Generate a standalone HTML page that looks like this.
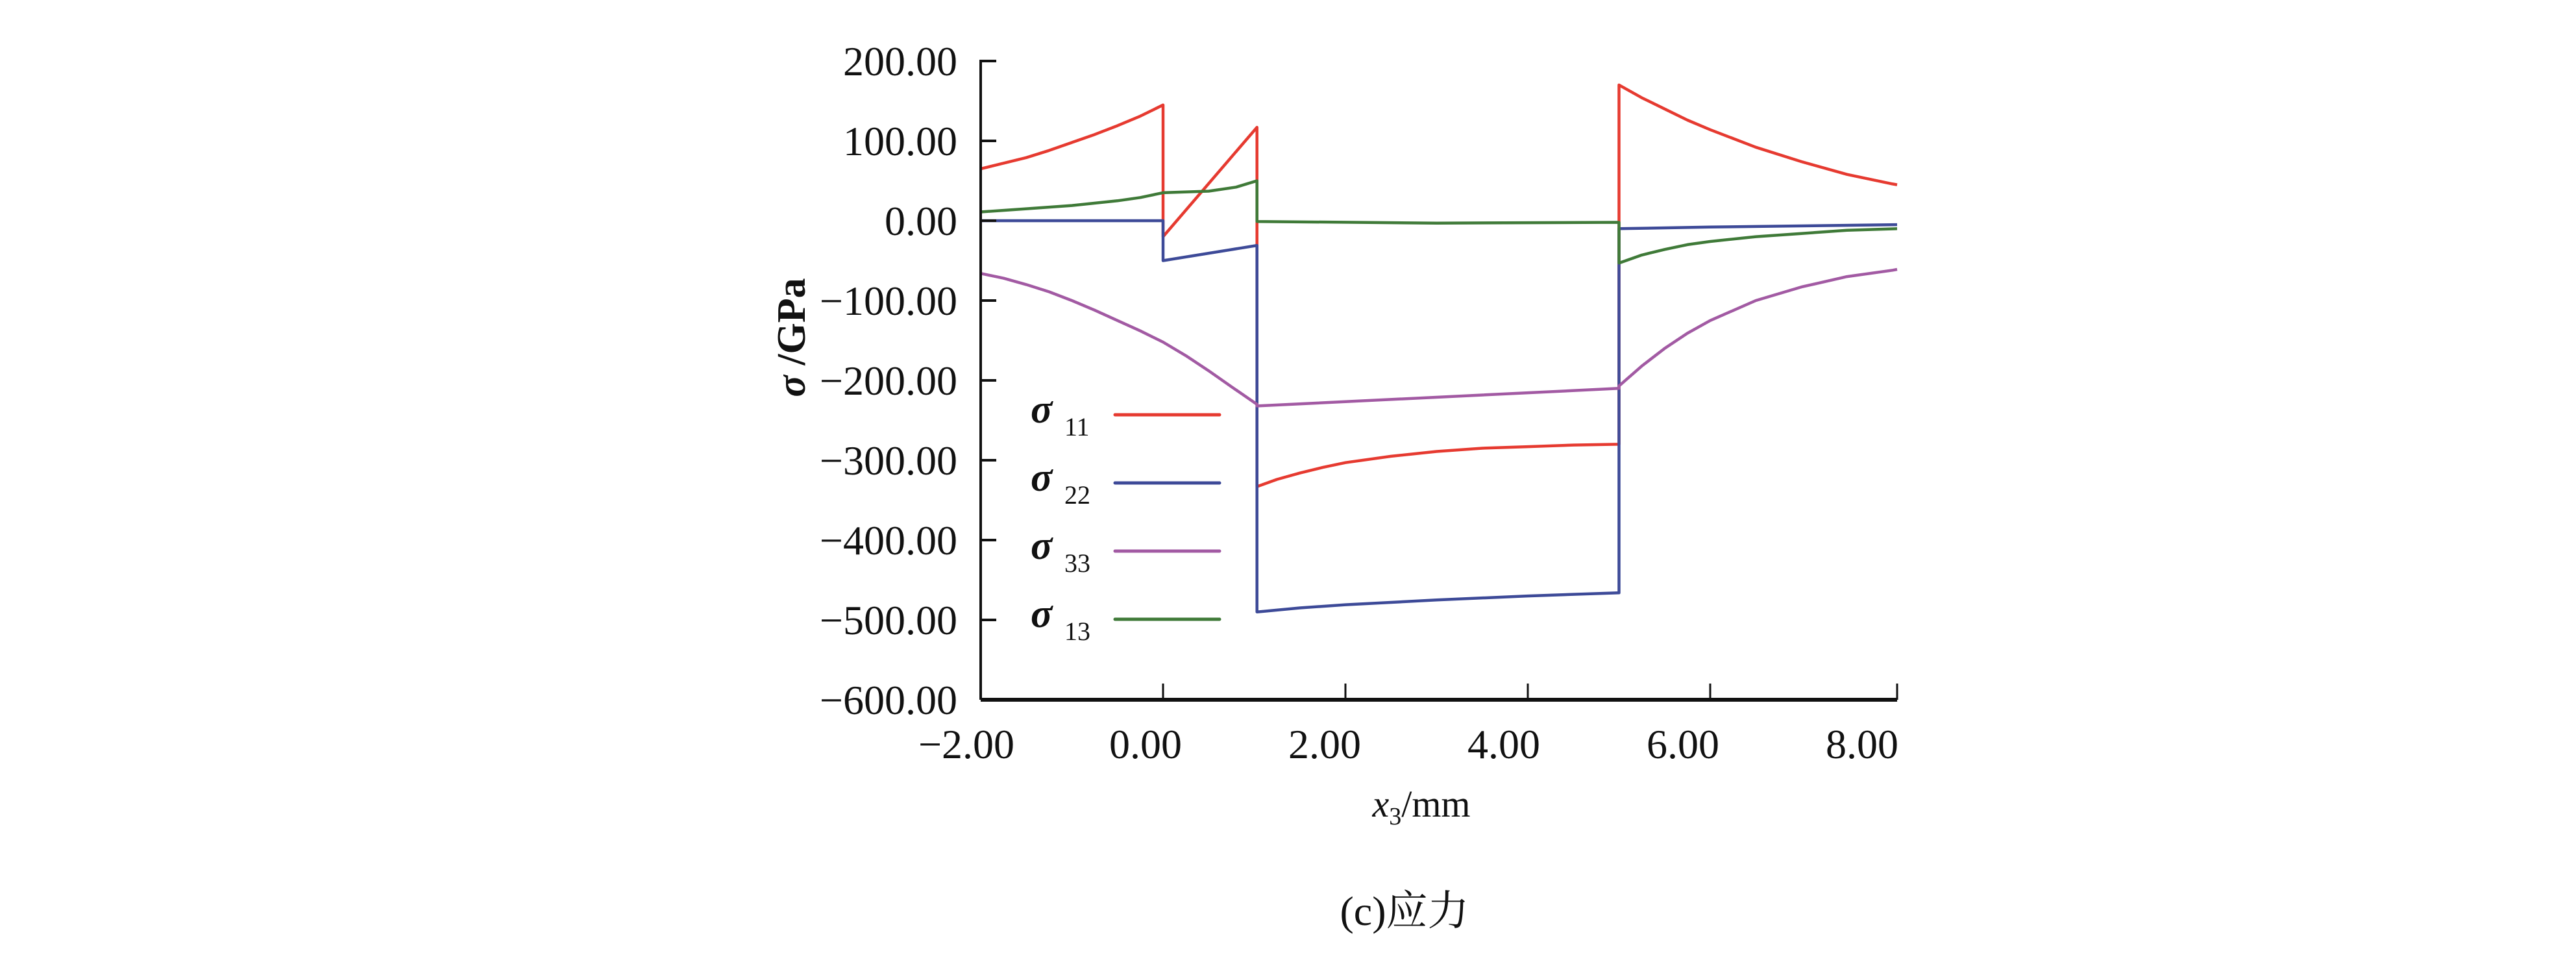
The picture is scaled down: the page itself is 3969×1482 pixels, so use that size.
<!DOCTYPE html>
<html><head><meta charset="utf-8"><style>
html,body{margin:0;padding:0;background:#fff;}
svg{display:block;}
text{font-family:"Liberation Serif","Noto Serif CJK SC",serif;fill:#111;}
</style></head><body>
<svg id="chart" width="3969" height="1482" viewBox="0 0 3969 1482" xmlns="http://www.w3.org/2000/svg">
<g id="plot"></g>
<g id="axes"></g>
<text transform="translate(1240,520) rotate(-90)" text-anchor="middle" font-size="62" font-weight="bold"><tspan font-style="italic">σ</tspan> /GPa</text>
<text x="2190" y="1258" text-anchor="middle" font-size="58"><tspan font-style="italic">x</tspan><tspan font-size="38" dy="12">3</tspan><tspan dy="-12">/mm</tspan></text>
<text x="2164" y="1425" text-anchor="middle" font-size="64">(c)应力</text>
<g id="legend"></g>
</svg>
<script>
const xTicks = [-2, 0, 2, 4, 6, 8];
const xTickLabels = ["−2.00", "0.00", "2.00", "4.00", "6.00", "8.00"];
const yTicks = [200, 100, 0, -100, -200, -300, -400, -500, -600];
const yTickLabels = ["200.00", "100.00", "0.00", "−100.00", "−200.00", "−300.00", "−400.00", "−500.00", "−600.00"];
const seriesNames = ["11", "22", "33", "13"];
const seriesColors = ["#e63a30", "#3d4a98", "#a25aa3", "#3f7a38"];
const s11X = [[-2, -1.75, -1.5, -1.25, -1, -0.75, -0.5, -0.25, 0], [0, 1.03], [1.03, 1.25, 1.5, 1.75, 2, 2.5, 3, 3.5, 4, 4.5, 5], [5, 5.25, 5.5, 5.75, 6, 6.5, 7, 7.5, 8, 8.05]];
const s11Y = [[65, 72, 79, 88, 98, 108, 119, 131, 145], [-20, 117], [-333, -324, -316, -309, -303, -295, -289, -285, -283, -281, -280], [170, 154, 140, 126, 114, 92, 74, 58, 46, 45]];
const s22X = [[-2, 0], [0, 1.03], [1.03, 1.5, 2, 3, 4, 5], [5, 6, 8.05]];
const s22Y = [[0, 0], [-50, -31], [-490, -485, -481, -475, -470, -466], [-10, -8, -5]];
const s33X = [[-2, -1.75, -1.5, -1.25, -1, -0.75, -0.5, -0.25, 0, 0.25, 0.5, 0.75, 1.03], [1.03, 5], [5, 5.25, 5.5, 5.75, 6, 6.5, 7, 7.5, 8, 8.05]];
const s33Y = [[-66, -72, -80, -89, -100, -112, -125, -138, -152, -169, -188, -208, -230], [-232, -210], [-207, -182, -160, -141, -125, -100, -83, -70, -62, -61]];
const s13X = [[-2, -1.5, -1, -0.5, -0.25, 0], [0, 0.5, 0.8, 1.03], [1.03, 3, 5], [5, 5.25, 5.5, 5.75, 6, 6.5, 7, 7.5, 8.05]];
const s13Y = [[11, 15, 19, 25, 29, 35], [35, 37, 42, 50], [-1, -3, -2], [-53, -43, -36, -30, -26, -20, -16, -12, -10]];

const X0 = 1511, X1 = 2916, Y0 = 94, Y1 = 1078;
function sx(v){ return X0 + (v + 2) / 10 * (X1 - X0); }
function sy(v){ return Y0 + (200 - v) / 800 * (Y1 - Y0); }
const NS = "http://www.w3.org/2000/svg";
function mk(tag, attrs, parent){ const e = document.createElementNS(NS, tag); for (const k in attrs) e.setAttribute(k, attrs[k]); parent.appendChild(e); return e; }

const plot = document.getElementById('plot');
const allX = [s11X, s22X, s33X, s13X], allY = [s11Y, s22Y, s33Y, s13Y];
for (let s = 0; s < 4; s++) {
  let pts = [];
  for (let g = 0; g < allX[s].length; g++) {
    for (let i = 0; i < allX[s][g].length; i++) pts.push(sx(allX[s][g][i]).toFixed(1) + ',' + sy(allY[s][g][i]).toFixed(1));
  }
  const pl = mk('polyline', {points: pts.join(' '), fill: 'none', stroke: seriesColors[s], 'stroke-width': 4.5, 'stroke-linejoin': 'round'}, plot);
  
  
}

const axes = document.getElementById('axes');
const AXR = sx(8.05);
const ya = mk('line', {x1: X0, y1: Y0 - 2, x2: X0, y2: Y1, stroke: '#111', 'stroke-width': 4}, axes);


const xa = mk('line', {x1: X0, y1: Y1, x2: AXR, y2: Y1, stroke: '#111', 'stroke-width': 6}, axes);


for (let i = 0; i < yTicks.length; i++) {
  const y = sy(yTicks[i]);
  const t = mk('line', {x1: X0, y1: y, x2: X0 + 24, y2: y, stroke: '#111', 'stroke-width': 4}, axes);
  
  
  const l = mk('text', {x: 1475, y: y + 22, 'text-anchor': 'end', 'font-size': 64}, axes);
  l.textContent = yTickLabels[i];
  
  
}
for (let i = 0; i < xTicks.length; i++) {
  const x = sx(xTicks[i]);
  if (i > 0 && i < xTicks.length - 1) {
    const t = mk('line', {x1: x, y1: Y1, x2: x, y2: Y1 - 25, stroke: '#111', 'stroke-width': 3}, axes);
    
    
  }
  const l = mk('text', {x: x - 22 - i * 5, y: 1168, 'text-anchor': 'middle', 'font-size': 64}, axes);
  l.textContent = xTickLabels[i];
  
  
}
const right = mk('line', {x1: AXR, y1: Y1, x2: AXR, y2: Y1 - 25, stroke: '#111', 'stroke-width': 3}, axes);



const legend = document.getElementById('legend');
const legY = [639, 744, 849, 954];
for (let s = 0; s < 4; s++) {
  const g = mk('g', {}, legend);
  
  
  const t = mk('text', {x: 1588, y: legY[s] + 12, 'font-size': 62, 'font-style': 'italic', 'font-weight': 'bold'}, g);
  t.textContent = 'σ';
  const sub = mk('text', {x: 1640, y: legY[s] + 32, 'font-size': 40}, g);
  sub.textContent = seriesNames[s];
  mk('line', {x1: 1718, y1: legY[s], x2: 1879, y2: legY[s], stroke: seriesColors[s], 'stroke-width': 5, 'stroke-linecap': 'round'}, g);
}
</script>
</body></html>
